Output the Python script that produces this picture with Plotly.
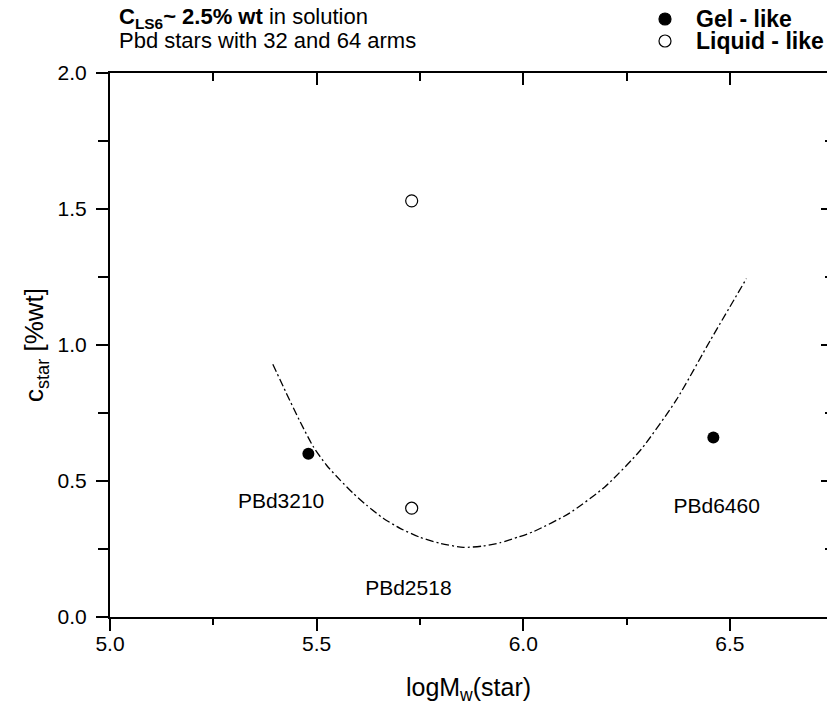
import plotly.graph_objects as go

# ---- data ----
gel_x = [5.48, 6.46]
gel_y = [0.60, 0.66]
liq_x = [5.73, 5.73]
liq_y = [0.40, 1.53]

label_text = ["PBd3210", "PBd2518", "PBd6460"]
label_x = [5.414, 5.722, 6.468]
label_y = [0.421, 0.099, 0.400]

curve_x = [5.394, 5.427, 5.460, 5.492, 5.524, 5.557, 5.589, 5.621, 5.661, 5.702,
           5.750, 5.798, 5.855, 5.903, 5.944, 5.990, 6.025, 6.111, 6.198, 6.284,
           6.370, 6.453, 6.540]
curve_y = [0.929, 0.822, 0.718, 0.626, 0.558, 0.503, 0.454, 0.411, 0.363, 0.326,
           0.293, 0.271, 0.256, 0.261, 0.273, 0.295, 0.314, 0.381, 0.479, 0.614,
           0.797, 1.018, 1.244]

x_range = [5.0, 6.735]
y_range = [0.0, 2.0]
x_ticks = [5.0, 5.5, 6.0, 6.5]
y_ticks = [0.0, 0.5, 1.0, 1.5, 2.0]

W, H = 827, 705
ML, MR, MT, MB = 110, 0, 73, 88
PW, PH = W - ML - MR, H - MT - MB


def px_x(p):
    return (p - ML) / PW


def px_y(p):
    return (H - MB - p) / PH


FONT = "Liberation Sans, Arial, sans-serif"

fig = go.Figure()

fig.add_trace(go.Scatter(
    x=curve_x, y=curve_y, mode="lines",
    line=dict(color="black", width=1.3, dash="8px,3px,2px,3px", shape="spline", smoothing=0.6),
    showlegend=False, hoverinfo="skip"))

fig.add_trace(go.Scatter(
    x=gel_x, y=gel_y, mode="markers", name="Gel - like",
    marker=dict(symbol="circle", size=12, color="black"),
    showlegend=False))

fig.add_trace(go.Scatter(
    x=liq_x, y=liq_y, mode="markers", name="Liquid - like",
    marker=dict(symbol="circle-open", size=12, color="black", line=dict(width=1.2)),
    showlegend=False))

fig.add_trace(go.Scatter(
    x=label_x, y=label_y, mode="text", text=label_text,
    textposition="middle center",
    textfont=dict(family=FONT, size=21, color="black"),
    showlegend=False, hoverinfo="skip"))

axis_common = dict(showgrid=False, zeroline=False, linecolor="black", linewidth=2,
                   tickcolor="black", tickwidth=2)

fig.update_layout(
    width=W, height=H,
    margin=dict(l=ML, r=MR, t=MT, b=MB),
    paper_bgcolor="white", plot_bgcolor="white",
    font=dict(family=FONT, color="black"),
    xaxis=dict(range=x_range, tickvals=x_ticks, ticktext=[f"{v:.1f}" for v in x_ticks],
               ticks="outside", ticklen=12, showline=True,
               minor=dict(dtick=0.25, tick0=5.0, ticks="outside", ticklen=6,
                          tickwidth=2, tickcolor="black"),
               tickfont=dict(size=21), ticklabelstandoff=-5,
               title=dict(text="logM<sub>w</sub>(star)", font=dict(size=25), standoff=25),
               **axis_common),
    yaxis=dict(range=y_range, tickvals=y_ticks, ticktext=[f"{v:.1f}" for v in y_ticks],
               ticks="outside", ticklen=12, showline=True,
               minor=dict(dtick=0.25, tick0=0.0, ticks="outside", ticklen=10,
                          tickwidth=2, tickcolor="black"),
               tickfont=dict(size=21), ticklabelstandoff=5,
               title=dict(text="c<sub>star</sub> [%wt]", font=dict(size=26), standoff=6),
               **axis_common),
    xaxis2=dict(range=x_range, overlaying="x", side="top", anchor="y",
                tickvals=x_ticks, showticklabels=False, ticks="inside", ticklen=12,
                showline=True,
                minor=dict(dtick=0.25, tick0=5.0, ticks="inside", ticklen=8,
                           tickwidth=2, tickcolor="black"),
                **axis_common),
    yaxis2=dict(range=y_range, overlaying="y", side="right", anchor="x",
                tickvals=y_ticks, showticklabels=False, ticks="inside", ticklen=6,
                showline=False,
                minor=dict(dtick=0.25, tick0=0.0, ticks="inside", ticklen=2,
                           tickwidth=2, tickcolor="black"),
                **axis_common),
)

# invisible trace to activate the mirrored axes
fig.add_trace(go.Scatter(x=[x_range[0]], y=[y_range[0]], xaxis="x2", yaxis="y2",
                         mode="markers", marker=dict(opacity=0), showlegend=False,
                         hoverinfo="skip"))

# header text
fig.add_annotation(xref="paper", yref="paper", x=px_x(117), y=px_y(18),
                   xanchor="left", yanchor="middle", showarrow=False,
                   text="<b>C<sub>LS6</sub>~ 2.5% wt</b> in solution",
                   font=dict(size=22, family=FONT))
fig.add_annotation(xref="paper", yref="paper", x=px_x(117), y=px_y(41),
                   xanchor="left", yanchor="middle", showarrow=False,
                   text="Pbd stars with 32 and 64 arms",
                   font=dict(size=22, family=FONT))

# legend (symbols + bold labels)
legend_items = [("Gel - like", "black", 19), ("Liquid - like", "white", 41)]
for name, fill, yy in legend_items:
    fig.add_shape(type="circle", xref="paper", yref="paper", xsizemode="pixel",
                  ysizemode="pixel", xanchor=px_x(665), yanchor=px_y(yy),
                  x0=-6, x1=6, y0=-6, y1=6, fillcolor=fill,
                  line=dict(color="black", width=1.2))
    fig.add_annotation(xref="paper", yref="paper", x=px_x(694), y=px_y(yy),
                       xanchor="left", yanchor="middle", showarrow=False,
                       text=f"<b>{name}</b>", font=dict(size=23, family=FONT))

fig.write_html("out.html")
